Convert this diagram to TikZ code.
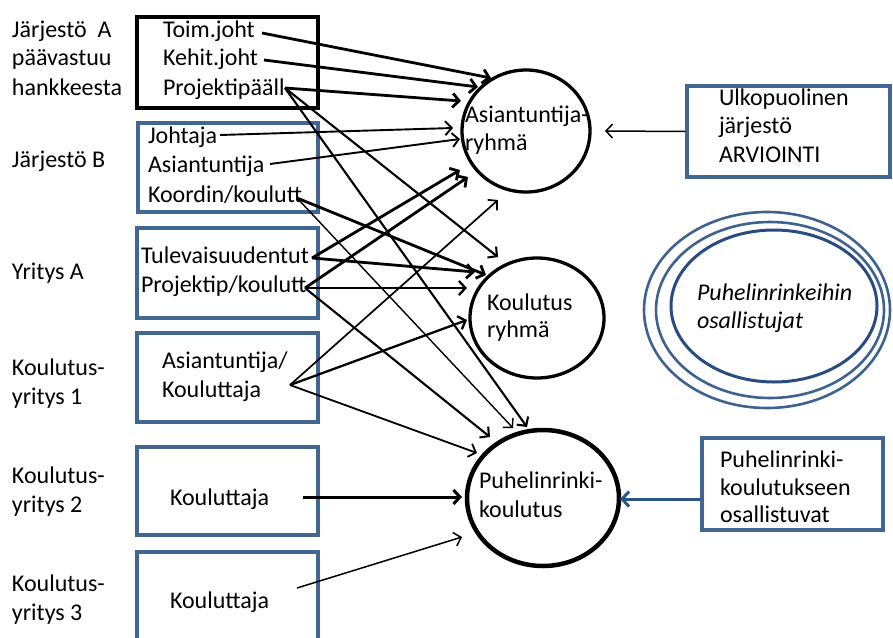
\documentclass[tikz,border=0pt]{standalone}
\usepackage{fontspec}
\setmainfont{Carlito}
\usetikzlibrary{shapes.geometric,arrows.meta,calc}
\definecolor{frameblue}{RGB}{66,102,146}
\definecolor{ringblue}{RGB}{62,98,144}
\definecolor{ringdark}{RGB}{40,76,126}
\definecolor{arrowblue}{RGB}{44,84,134}
\begin{document}
\begin{tikzpicture}[x=1pt,y=-1pt,
  txt/.style={anchor=base west,inner sep=0pt,outer sep=0pt,font=\fontsize{24}{29}\selectfont},
  itxt/.style={txt,font=\fontsize{24}{29}\selectfont\itshape},
  blackbox/.style={draw=black,line width=4.5pt,rectangle,inner sep=0pt},
  bluebox/.style={draw=frameblue,line width=3.3pt,rectangle,inner sep=0pt},
  group/.style={draw=black,ellipse,inner sep=0pt},
  ring/.style={draw=ringblue,ellipse,inner sep=0pt,line width=2.6pt},
  link/.style={-{Straight Barb[length=6.5pt,width=14pt]},line width=#1},
  link/.default=1.8pt]

\useasboundingbox (0,0) rectangle (893,637);
\clip (0,0) rectangle (893,637);

% ---------- organisation labels on the left ----------
\node[txt] (lA1) at (12,37) {Järjestö\ \ A};
\node[txt] (lA2) at (12,65) {päävastuu};
\node[txt] (lA3) at (12,95) {hankkeesta};
\node[txt] (lB)  at (12,167) {Järjestö B};
\node[txt] (lY)  at (12,279) {Yritys A};
\node[txt] (l11) at (12,375) {Koulutus-};
\node[txt] (l12) at (12,404) {yritys 1};
\node[txt] (l21) at (12,483) {Koulutus-};
\node[txt] (l22) at (12,512) {yritys 2};
\node[txt] (l31) at (12,591) {Koulutus-};
\node[txt] (l32) at (12,620) {yritys 3};

% ---------- member boxes ----------
\node[blackbox,minimum width=181pt,minimum height=91pt] (bA) at (227.5,62.5) {};
\node[bluebox,minimum width=180pt,minimum height=89pt] (bB) at (228,167.5) {};
\node[bluebox,minimum width=181pt,minimum height=90pt] (bY) at (227.5,273) {};
\node[bluebox,minimum width=181pt,minimum height=89pt] (b1) at (227.5,377.5) {};
\node[bluebox,minimum width=181pt,minimum height=88pt] (b2) at (227.5,491) {};
\node[bluebox,minimum width=181pt,minimum height=96pt] (b3) at (227.5,600) {};

\node[txt] (tToim)  at (163,37) {Toim.joht};
\node[txt] (tKehit) at (163,65) {Kehit.joht};
\node[txt] (tProj)  at (163,95) {Projektipääll};
\node[txt] (tJoht)  at (148,143) {Johtaja};
\node[txt] (tAsi)   at (148,172) {Asiantuntija};
\node[txt] (tKoord) at (148,202) {Koordin/koulutt};
\node[txt] (tTulev) at (141,263) {Tulevaisuudentut};
\node[txt] (tProjk) at (141,292) {Projektip/koulutt};
\node[txt] (tAk1)   at (162,368) {Asiantuntija/};
\node[txt] (tAk2)   at (162,397) {Kouluttaja};
\node[txt] (tK2)    at (170,505) {Kouluttaja};
\node[txt] (tK3)    at (170,608) {Kouluttaja};

% ---------- working groups ----------
\node[group,line width=3.3pt,minimum width=128pt,minimum height=122pt] (ar) at (526,131) {};
\node[group,line width=3.3pt,minimum width=134pt,minimum height=120pt] (kr) at (537,318) {};
\node[group,line width=4.5pt,minimum width=152pt,minimum height=136pt] (pk) at (543,498) {};

\node[txt] (tAr1) at (465,122) {Asiantuntija-};
\node[txt] (tAr2) at (465,150) {ryhmä};
\node[txt] (tKr1) at (487,310) {Koulutus};
\node[txt] (tKr2) at (487,337) {ryhmä};
\node[txt] (tPk1) at (479,488) {Puhelinrinki-};
\node[txt] (tPk2) at (479,517) {koulutus};

% ---------- right-hand side ----------
\node[bluebox,minimum width=203pt,minimum height=91pt] (bU) at (788.5,131.5) {};
\node[txt] (tU1) at (719,105) {Ulkopuolinen};
\node[txt] (tU2) at (719,133) {järjestö};
\node[txt] (tU3) at (719,162) {ARVIOINTI};

\node[ring,minimum width=246pt,minimum height=196pt] (ring1) at (767,310) {};
\node[ring,minimum width=228pt,minimum height=176pt] (ring2) at (770,310) {};
\node[ring,draw=ringdark,line width=3pt,minimum width=206pt,minimum height=152pt] (ring3) at (774,306) {};
\node[itxt] (tR1) at (697,300) {Puhelinrinkeihin};
\node[itxt] (tR2) at (697,328) {osallistujat};

\node[bluebox,minimum width=181pt,minimum height=92pt] (bP) at (792.5,484) {};
\node[txt] (tP1) at (720,467) {Puhelinrinki-};
\node[txt] (tP2) at (720,495) {koulutukseen};
\node[txt] (tP3) at (720,522) {osallistuvat};

% ---------- connector start points ----------
\coordinate (sToim)  at (262,33);
\coordinate (sKehit) at (264,60);
\coordinate (sProj)  at (285,88);
\coordinate (sJoht)  at (220,135);
\coordinate (sAsi)   at (270,164);
\coordinate (sKoord) at (297,198);
\coordinate (sTulev) at (312,258);
\coordinate (sProjk) at (305,288);
\coordinate (sAk)    at (290,385);
\coordinate (sK2)    at (303,497);
\coordinate (sK3)    at (297,588);
\coordinate (sP)     at ($(bP.west)+(0,15)$);

% ---------- connectors to the expert group ----------
\draw[link=2.8pt] (sToim)  -- ($(ar)+(-35,-53)$);
\draw[link=2.8pt] (sKehit) -- ($(ar)+(-48,-44)$);
\draw[link=2.8pt] (sProj)  -- ($(ar)+(-65,-30)$);
\draw[link=1.9pt] (sJoht)  -- ($(ar)+(-73,-3)$);
\draw[link=1.9pt] (sAsi)   -- ($(ar)+(-66,8)$);
\draw[link=2.8pt] (sTulev) -- ($(ar)+(-66,39)$);
\draw[link=2.8pt] (sProjk) -- ($(ar)+(-58,46)$);
\draw[link=1.7pt] (sAk)    -- ($(ar)+(-28,69)$);
\draw[link=1.5pt] (bU.west) -- ($(ar)+(79,0)$);

% ---------- connectors to the training group ----------
\draw[link=2.1pt] (sProj)  -- ($(kr)+(-39,-61)$);
\draw[link=2.8pt] (sTulev) -- ($(kr)+(-62,-46)$);
\draw[link=2.8pt] (sKoord) -- ($(kr)+(-51,-43)$);
\draw[link=2.3pt] (sProjk) -- ($(kr)+(-70,-30)$);
\draw[link=2.3pt] (sAk)    -- ($(kr)+(-70,2)$);

% ---------- connectors to the phone-circle training ----------
\draw[link=1.8pt] (sAk)    -- ($(pk)+(-66,-45)$);
\draw[link=2.1pt] (sProjk) -- ($(pk)+(-53,-61)$);
\draw[link=1.4pt] (sKoord) -- ($(pk)+(-30,-70)$);
\draw[link=2.1pt] (sProj)  -- ($(pk)+(-16,-71)$);
\draw[link=3pt]   (sK2)    -- ($(pk)+(-81,-1)$);
\draw[link=1.5pt] (sK3)    -- ($(pk)+(-81,39)$);
\draw[line width=3pt,draw=arrowblue,-{Straight Barb[length=7pt,width=15pt]}] (sP) -- ($(pk)+(77,1)$);

\end{tikzpicture}
\end{document}
